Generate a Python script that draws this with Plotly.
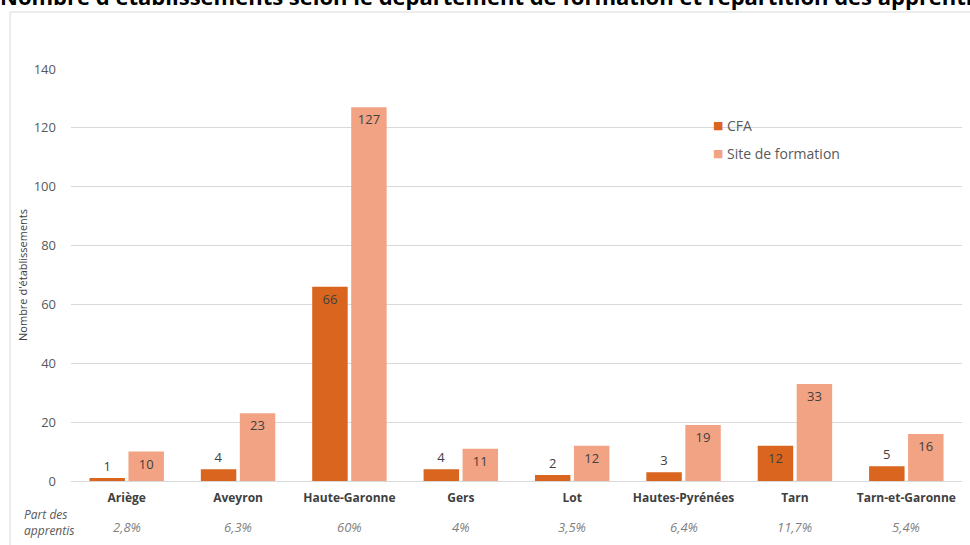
import plotly.graph_objects as go

departements = ["Ariège", "Aveyron", "Haute-Garonne", "Gers", "Lot", "Hautes-Pyrénées", "Tarn", "Tarn-et-Garonne"]
cfa = [1, 4, 66, 4, 2, 3, 12, 5]
sites = [10, 23, 127, 11, 12, 19, 33, 16]
part_apprentis = ["2,8%", "6,3%", "60%", "4%", "3,5%", "6,4%", "11,7%", "5,4%"]
y_ticks = [0, 20, 40, 60, 80, 100, 120, 140]
series_names = ["CFA", "Site de formation"]
series_colors = ["#D9651E", "#F2A384"]

W, H = 970, 545
L, R, T, B = 71, 8, 69, 64
pw, ph = W - L - R, H - T - B

def px_to_paper_x(px):
    return (px - L) / pw

def px_to_paper_y(py):
    return (H - B - py) / ph

FONT = "Open Sans, sans-serif"
label_font = dict(family=FONT, size=13, color="#404040")

def positions(vals):
    return ["inside" if v >= 10 else "outside" for v in vals]

fig = go.Figure()
for name, vals, color in zip(series_names, [cfa, sites], series_colors):
    fig.add_trace(go.Bar(
        name=name, x=departements, y=vals, text=[str(v) for v in vals],
        textposition=positions(vals), insidetextanchor="end",
        textfont=label_font, outsidetextfont=label_font, insidetextfont=label_font,
        marker=dict(color=color, line=dict(width=0)),
        cliponaxis=False, showlegend=False,
    ))

annotations = []
for d, p in zip(departements, part_apprentis):
    annotations.append(dict(
        x=d, xref="x", y=px_to_paper_y(527), yref="paper",
        text=f"<i>{p}</i>", showarrow=False,
        font=dict(family=FONT, size=13, color="#7F7F7F"),
        xanchor="center", yanchor="middle",
    ))
annotations.append(dict(
    x=px_to_paper_x(22), xref="paper", y=px_to_paper_y(522), yref="paper",
    text="<i>Part des<br>apprentis</i>", showarrow=False, align="left",
    font=dict(family=FONT, size=12, color="#595959"),
    xanchor="left", yanchor="middle",
))
# Legend drawn as text entries
for i, (name, color) in enumerate(zip(series_names, series_colors)):
    yy = px_to_paper_y(125 + 28 * i)
    annotations.append(dict(
        x=px_to_paper_x(711), xref="paper", y=yy, yref="paper",
        text="■", showarrow=False,
        font=dict(family="DejaVu Sans, sans-serif", size=11, color=color),
        xanchor="left", yanchor="middle",
    ))
    annotations.append(dict(
        x=px_to_paper_x(725), xref="paper", y=yy, yref="paper",
        text=name, showarrow=False,
        font=dict(family=FONT, size=14, color="#595959"),
        xanchor="left", yanchor="middle",
    ))
# Title (cropped at top edge in the reference)
annotations.append(dict(
    x=px_to_paper_x(-2), xref="paper", y=px_to_paper_y(-4), yref="paper",
    text="<b>Nombre d'établissements selon le département de formation et répartition des apprentis</b>",
    showarrow=False, xanchor="left", yanchor="middle", align="left",
    font=dict(family=FONT, size=22, color="#000000"),
))

shapes = [dict(
    type="rect", xref="paper", yref="paper",
    x0=px_to_paper_x(10), x1=px_to_paper_x(985),
    y0=px_to_paper_y(560), y1=px_to_paper_y(12),
    line=dict(color="#D9D9D9", width=1), fillcolor="rgba(0,0,0,0)", layer="below",
)]

fig.update_layout(
    width=W, height=H,
    margin=dict(l=L, r=R, t=T, b=B, autoexpand=False),
    paper_bgcolor="white", plot_bgcolor="white",
    barmode="group", bargap=0.30, bargroupgap=0.09,
    showlegend=False,
    xaxis=dict(
        tickvals=departements,
        ticktext=[f"<b>{d}</b>" for d in departements],
        tickfont=dict(family=FONT, size=12, color="#404040"),
        showline=True, linecolor="#D9D9D9", linewidth=1,
        ticks="", ticklabelstandoff=6,
    ),
    yaxis=dict(
        range=[0, 140], tickvals=y_ticks,
        tickfont=dict(family=FONT, size=13, color="#595959"),
        gridcolor="#D9D9D9", gridwidth=1, zeroline=False,
        title=dict(text="Nombre d'établissements", standoff=3,
                   font=dict(family=FONT, size=11, color="#404040")),
        ticklabelstandoff=14,
    ),
    annotations=annotations,
    shapes=shapes,
)

fig.write_html("out.html", config={"displayModeBar": False},
               post_script="document.body.style.margin='0px';")
